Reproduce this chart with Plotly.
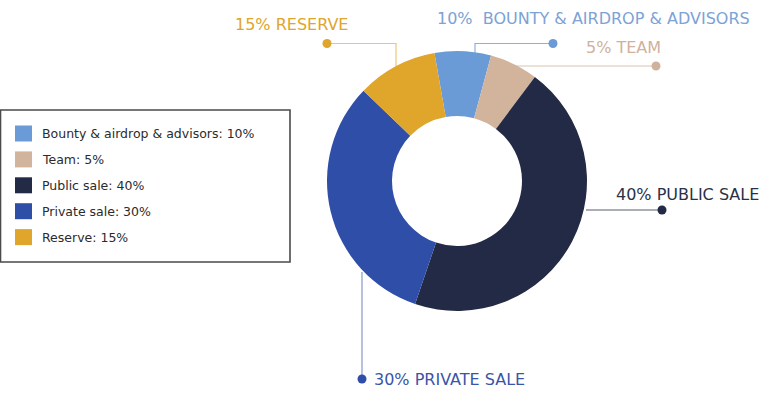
import plotly.graph_objects as go

# ---- data ----
legend_labels = ["Bounty & airdrop & advisors: 10%", "Team: 5%", "Public sale: 40%",
                 "Private sale: 30%", "Reserve: 15%"]
slice_names = ["Bounty & airdrop & advisors", "Team", "Public sale", "Private sale", "Reserve"]
# slice sizes as drawn in the picture (percent of the ring)
slice_values = [7, 6, 45, 32, 10]
callout_texts = ["10%  BOUNTY & AIRDROP & ADVISORS", "5% TEAM", "40% PUBLIC SALE",
                 "30% PRIVATE SALE", "15% RESERVE"]
colors = ["#6b9bd6", "#d2b49c", "#232a45", "#2f4ea8", "#e0a52b"]
text_colors = ["#7da2d6", "#cfb29d", "#2a3148", "#3a55a8", "#e0a52b"]
line_colors = ["#8fb0dd", "#d9c2b0", "#5a5f70", "#8798c8", "#ecc778"]

W, H = 768, 406
FONT = "DejaVu Sans"


def px(x):
    return x / W


def py(y):
    return 1 - y / H


cx, cy, R = 457, 181, 130

fig = go.Figure(go.Pie(
    labels=slice_names,
    values=slice_values,
    hole=0.5,
    sort=False,
    direction="clockwise",
    rotation=-10,
    marker=dict(colors=colors, line=dict(width=0)),
    textinfo="none",
    hoverinfo="label",
    showlegend=False,
    domain=dict(x=[px(cx - R), px(cx + R)], y=[py(cy + R), py(cy - R)]),
))

shapes = []
annotations = []

# ---- callouts: (polyline points in px, dot position, text anchor) ----
callouts = [
    # bounty
    dict(pts=[(475, 56), (475, 43.5), (553, 43.5)], dot=(553, 43.5), tx=435, ty=18),
    # team
    dict(pts=[(508, 66), (656, 66)], dot=(656, 66), tx=584, ty=47),
    # public
    dict(pts=[(586, 210), (662, 210)], dot=(662, 210), tx=614, ty=194),
    # private
    dict(pts=[(362, 272), (362, 379)], dot=(362, 379), tx=372, ty=379),
    # reserve
    dict(pts=[(396, 66), (396, 43.5), (327, 43.5)], dot=(327, 43.5), tx=233, ty=24),
]

for i, c in enumerate(callouts):
    pts = c["pts"]
    path = "M " + " L ".join(f"{px(x):.5f},{py(y):.5f}" for x, y in pts)
    shapes.append(dict(type="path", xref="paper", yref="paper", path=path,
                       line=dict(color=line_colors[i], width=1.2), layer="below"))
    dx, dy = c["dot"]
    r = 4.5
    shapes.append(dict(type="circle", xref="paper", yref="paper",
                       x0=px(dx - r), x1=px(dx + r), y0=py(dy + r), y1=py(dy - r),
                       fillcolor=colors[i] if i != 1 else "#cfb29d",
                       line=dict(width=0)))
    annotations.append(dict(xref="paper", yref="paper", x=px(c["tx"]), y=py(c["ty"]),
                            xanchor="left", yanchor="middle", showarrow=False,
                            text=callout_texts[i],
                            font=dict(family=FONT, size=16, color=text_colors[i])))

# ---- legend box ----
shapes.append(dict(type="rect", xref="paper", yref="paper",
                   x0=px(0.5), x1=px(290), y0=py(262), y1=py(110),
                   line=dict(color="#4a4a4a", width=1.6), fillcolor="rgba(0,0,0,0)"))
row_y0, row_dy = 133.5, 25.9
for i, lab in enumerate(legend_labels):
    yy = row_y0 + i * row_dy
    shapes.append(dict(type="rect", xref="paper", yref="paper",
                       x0=px(15), x1=px(32), y0=py(yy + 8), y1=py(yy - 8),
                       fillcolor=colors[i], line=dict(width=0)))
    annotations.append(dict(xref="paper", yref="paper", x=px(40), y=py(yy),
                            xanchor="left", yanchor="middle", showarrow=False,
                            text=lab, font=dict(family=FONT, size=12.5, color="#2b2b2b")))

fig.update_layout(
    width=W, height=H,
    margin=dict(l=0, r=0, t=0, b=0),
    paper_bgcolor="white", plot_bgcolor="white",
    shapes=shapes, annotations=annotations,
    showlegend=False,
)

fig.write_html("out.html")
